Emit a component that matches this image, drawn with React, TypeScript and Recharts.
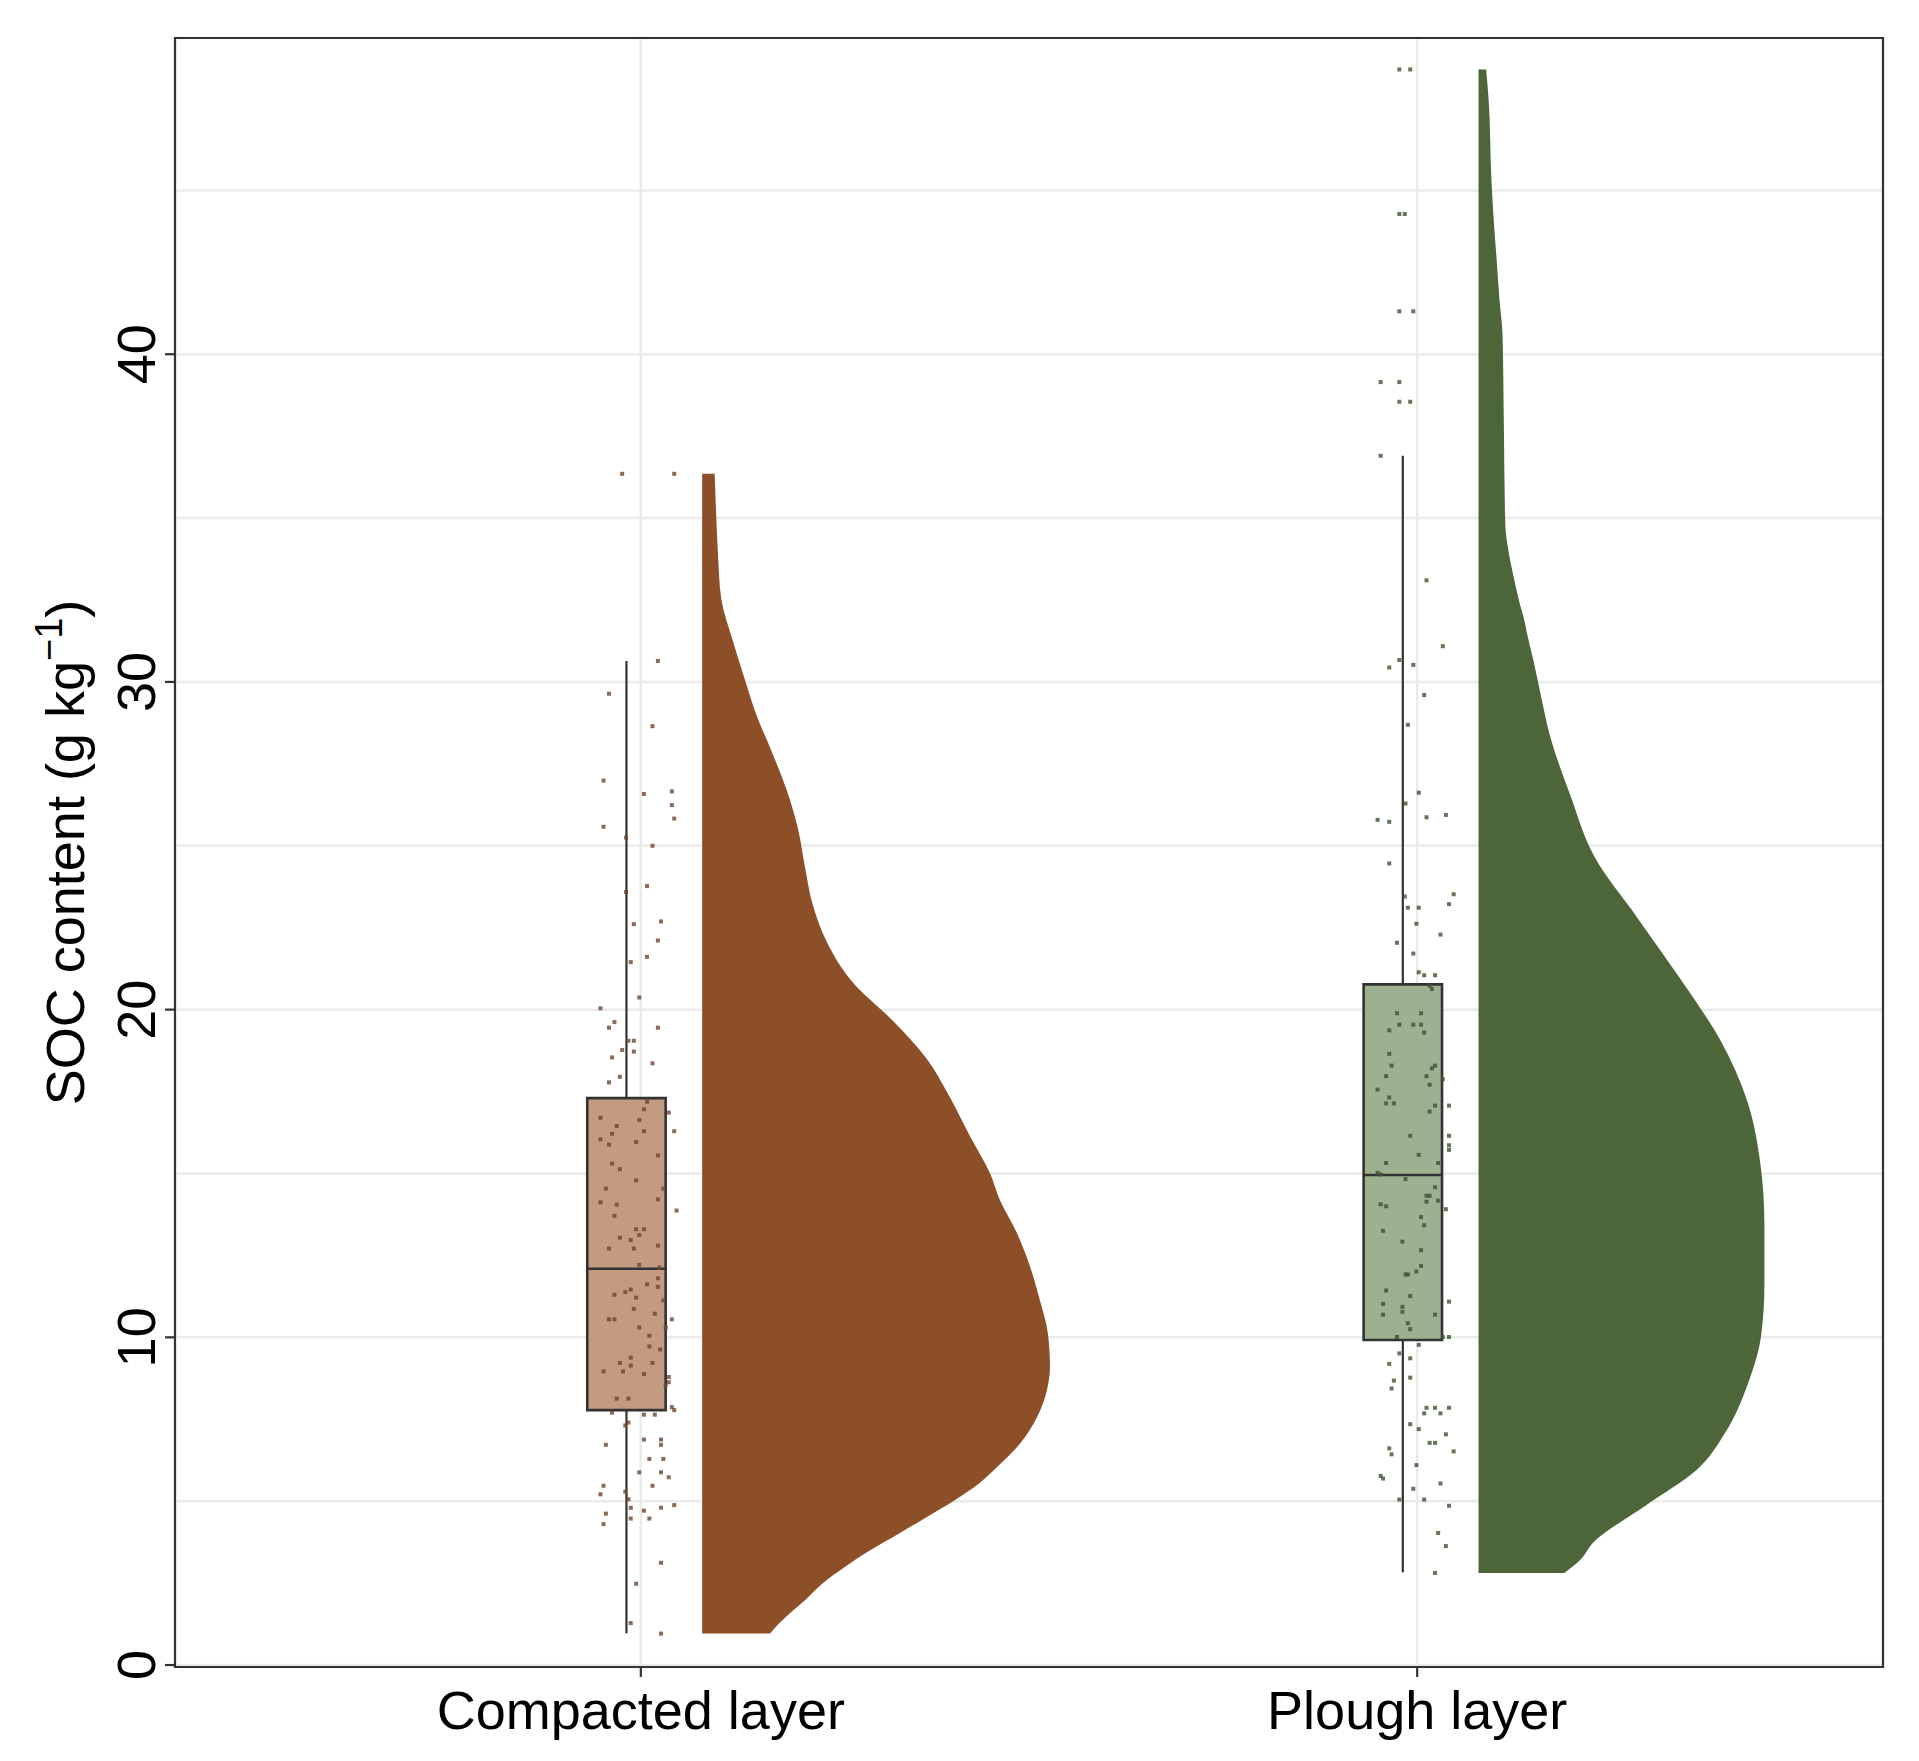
import React from "react";
import { ComposedChart, XAxis, YAxis, CartesianGrid, Area, Scatter, ReferenceArea, ReferenceLine } from "recharts";

const categories = ["Compacted layer", "Plough layer"];
const gridTicks = [0, 5, 10, 15, 20, 25, 30, 35, 40, 45];
const categoryTicks = [1, 2];

// jittered observations (SOC, horizontal jitter in category units)
const compactedSoc = [
  36.35, 36.35, 30.64, 29.64, 28.65, 26.99, 26.58, 26.66, 26.24, 25.83, 25.58, 25.25, 25.0, 23.59, 23.77, 22.61,
  22.69, 22.11, 21.45, 21.61, 20.37, 20.04, 19.45, 19.62, 19.45, 19.05, 19.05,
  18.77, 18.72, 18.54, 18.36, 17.95, 17.78,
  17.19, 16.96, 16.7, 16.63, 16.86, 16.45, 16.29, 16.29, 16.21, 16.04, 15.88, 15.96, 15.55, 15.3, 15.13, 14.79,
  14.54, 14.54, 14.21, 14.12, 14.05, 13.87, 13.71, 13.3, 13.3, 13.12, 13.04, 12.97, 12.71, 12.71, 12.8, 12.21, 12.13,
  11.8, 11.54, 11.62, 11.46, 11.38, 11.3, 11.21, 11.13, 10.87, 10.72, 10.55, 10.55, 10.55, 10.3, 10.3, 10.05, 9.72,
  9.63, 9.38, 9.22, 9.14, 9.22, 8.96, 8.96, 8.88, 8.79, 8.63, 8.54, 8.13, 8.13, 7.87, 7.78,
  7.7, 7.64, 7.64, 7.4, 7.31, 6.72, 6.88, 6.88, 6.72, 6.29, 6.29, 5.88, 5.88, 5.73, 5.47, 5.47, 5.21, 5.29, 5.06,
  4.88, 4.8, 4.8, 4.71, 4.47, 4.47, 4.62, 4.3, 3.12, 2.48, 1.28, 0.96
];
const compactedJitter = [
  -0.024, 0.043, 0.022, -0.041, 0.015, -0.048, 0.004, 0.04, 0.04, 0.043, -0.048, -0.019, 0.015, -0.019, 0.008, -0.009,
  0.026, 0.022, -0.013, 0.008, -0.002, -0.052, 0.022, -0.034, -0.041, -0.016, -0.009,
  -0.024, -0.009, -0.037, 0.015, -0.027, -0.041,
  0.008, 0.004, -0.052, -0.002, 0.036, -0.031, 0.004, 0.043, -0.037, -0.052, -0.041, -0.006, 0.022, -0.037, -0.027,
  -0.006, -0.045, 0.029, 0.022, -0.052, -0.031, 0.046, -0.034, -0.006, 0.004, -0.002, -0.027, -0.013, -0.041, -0.009,
  0.022, -0.002, 0.024,
  0.022, 0.022, 0.008, -0.013, -0.02, -0.034, -0.006, 0.029, -0.009, 0.018, -0.041, -0.034, 0.04, -0.002, 0.032, 0.011,
  0.011, 0.025, -0.013, -0.027, -0.013, 0.015, -0.048, -0.023, 0.004, 0.036, 0.036, 0.032, -0.031, -0.016, 0.04, 0.043,
  -0.037, 0.004, 0.018, -0.016, -0.02, -0.045, 0.004, 0.026, 0.026, 0.011, 0.029, -0.002, 0.026, 0.036, -0.048, 0.015,
  -0.052, -0.02, -0.016, 0.043, 0.026, -0.013, 0.004, -0.013, 0.011, -0.045, -0.048, 0.026, -0.006, -0.013, 0.026
];

const ploughSoc = [
  48.69, 48.69, 44.28, 44.28, 41.31, 41.31, 39.15, 39.15, 38.55, 38.55, 36.9, 33.1, 31.09, 30.44, 30.67, 30.52, 29.6,
  28.69, 26.62, 26.29, 25.79, 25.73, 25.87, 25.94,
  24.46, 23.52, 23.22, 23.45, 23.11, 23.11, 22.62, 22.29, 22.04, 21.71, 21.14, 21.05, 21.05, 20.73, 20.63,
  19.89, 19.89, 19.54, 19.54, 19.54, 19.37, 19.3, 18.65, 18.29, 18.29, 18.21, 17.97, 17.97, 17.88, 17.71, 17.56, 17.32,
  17.14, 17.14, 17.07, 17.07, 16.89, 16.15, 16.15, 15.86, 15.72, 15.57, 15.32, 15.32, 15.02, 14.97,
  14.83, 14.58, 14.32, 14.32, 14.14, 14.17, 14.06, 14.0, 13.91, 13.67, 13.42, 13.25, 12.92, 12.66, 12.18, 12.01, 11.92,
  11.92, 11.43, 11.26, 11.09, 11.02, 10.93, 10.78, 10.69, 10.69, 10.43, 10.25, 10.01, 10.01, 10.01,
  9.77, 9.51, 9.36, 9.19, 8.68, 8.77, 8.44, 7.85, 7.85, 7.85, 7.68, 7.68, 7.35, 7.2, 6.78, 6.78, 7.04, 6.61, 6.43, 6.52,
  6.1, 5.77, 5.69, 5.54, 5.38, 5.05, 5.05, 4.86, 4.03, 3.63, 2.81
];
const ploughJitter = [
  -0.023, -0.009, -0.023, -0.016, -0.023, -0.005, -0.047, -0.023, -0.023, -0.009, -0.047, 0.012, 0.033, -0.036, -0.023,
  -0.005, 0.009, -0.012, 0.002, -0.015, -0.051, -0.036, 0.012, 0.037,
  -0.036, 0.047, 0.041, -0.016, -0.012, 0.002, -0.001, 0.03, -0.026, -0.005, 0.002, 0.009, 0.023, 0.016, 0.019,
  -0.026, 0.005, -0.023, -0.005, 0.005, -0.036, 0.009, -0.036, -0.033, 0.023, 0.019, -0.04, 0.012, 0.033, 0.016, -0.051,
  -0.036, -0.04, -0.03, 0.023, 0.041, 0.016, -0.009, 0.041, 0.041, 0.041, 0.002, -0.04, 0.027, -0.051, -0.047,
  -0.015, 0.023, 0.012, 0.016, 0.012, 0.027, -0.047, -0.04, 0.037, 0.005, 0.009, -0.044, -0.019, 0.005, 0.005, -0.001,
  -0.015, -0.012, -0.04, -0.009, 0.041, -0.044, -0.019, -0.019, -0.044, 0.023, -0.012, -0.009, -0.026, 0.033, 0.041,
  0.002, -0.023, -0.009, -0.036, -0.03, -0.009, -0.033, 0.012, 0.023, 0.041, 0.009, 0.03, -0.009, 0.002, 0.016, 0.023,
  0.037, -0.036, -0.033, 0.047, -0.001, -0.047, -0.044, 0.03, -0.005, -0.023, 0.009, 0.041, 0.027, 0.037, 0.023
];

// half-violin density (relative to the widest slice)
const compactedDensitySoc = [
  0.96, 1.26, 1.56, 1.97, 2.48, 2.99, 3.5, 4.01, 4.51, 5.02, 5.53, 6.04, 6.76, 7.57, 8.38, 9.1, 10.12, 11.13, 12.15,
  13.18, 14.19, 15.0, 16.14, 17.31, 18.48, 19.65, 20.82, 21.99, 23.16, 24.33, 25.5, 26.67, 27.85, 29.02, 30.0, 31.36,
  32.53, 34.0, 35.2, 36.35
];
const compactedDensity = [
  0.195, 0.22, 0.25, 0.295, 0.345, 0.41, 0.483, 0.565, 0.645, 0.725, 0.795, 0.848, 0.914, 0.963, 0.991, 1.0, 0.994,
  0.971, 0.943, 0.905, 0.856, 0.828, 0.77, 0.713, 0.647, 0.549, 0.434, 0.362, 0.319, 0.296, 0.276, 0.244, 0.201, 0.155,
  0.125, 0.085, 0.055, 0.045, 0.04, 0.036
];
const ploughDensitySoc = [
  2.81, 3.18, 3.74, 4.86, 5.98, 7.1, 8.6, 10.09, 11.59, 13.46, 15.33, 17.2, 19.07, 20.94, 22.8, 24.67, 26.54, 28.41,
  29.5, 30.65, 31.5, 31.87, 32.5, 33.2, 33.66, 34.13, 34.8, 37.7, 40.6, 41.69, 42.77, 43.89, 45.35, 47.79, 48.69
];
const ploughDensity = [
  0.247, 0.29, 0.33, 0.48, 0.63, 0.71, 0.775, 0.813, 0.822, 0.822, 0.81, 0.773, 0.695, 0.58, 0.457, 0.333, 0.264,
  0.204, 0.181, 0.158, 0.139, 0.132, 0.116, 0.101, 0.092, 0.084, 0.077, 0.073, 0.069, 0.06, 0.053, 0.045, 0.037, 0.029,
  0.022
];

// box plot statistics per category
const whiskerLow = [0.97, 2.83];
const boxQ1 = [7.78, 9.92];
const boxMedian = [12.09, 14.95];
const boxQ3 = [17.3, 20.77];
const whiskerHigh = [30.64, 36.9];

const violinColors = ["#8C4F27", "#4C663A"];
const boxColors = ["#C39B80", "#9DB08F"];
const pointColors = ["#6B4632", "#3E5231"];

const W = 1919;
const H = 1761;
const PLOT_LEFT = 175;
const PLOT_TOP = 38;
const PLOT_RIGHT = 1883;
const PLOT_BOTTOM = 1667;
const Y_DOMAIN: [number, number] = [-0.06, 49.65];
const X_DOMAIN: [number, number] = [0.4, 2.6];
const BOX_LEFT = -0.069;
const BOX_RIGHT = 0.032;
const BOX_MID = -0.0185;
const VIOLIN_START = 0.079;
const VIOLIN_SCALE = 0.448;
const FONT = "'Liberation Sans', Arial, Helvetica, sans-serif";

const violins = [
  compactedDensitySoc.map((s, k) => ({ y: s, x: 1 + VIOLIN_START + compactedDensity[k] * VIOLIN_SCALE })),
  ploughDensitySoc.map((s, k) => ({ y: s, x: 2 + VIOLIN_START + ploughDensity[k] * VIOLIN_SCALE }))
];
const points = [
  compactedSoc.map((s, k) => ({ y: s, x: 1 + compactedJitter[k] })),
  ploughSoc.map((s, k) => ({ y: s, x: 2 + ploughJitter[k] }))
];

function YTick(props: any) {
  const { y, payload } = props;
  const v = payload.value;
  if (v % 10 !== 0) return <g />;
  const tx = PLOT_LEFT - 20;
  return (
    <g>
      <line x1={PLOT_LEFT - 10} x2={PLOT_LEFT} y1={y} y2={y} stroke="#333333" strokeWidth={2.2} />
      <text x={tx} y={y} transform={`rotate(-90 ${tx} ${y})`} textAnchor="middle" fontSize={54} fill="#000" fontFamily={FONT}>
        {v}
      </text>
    </g>
  );
}

function XTick(props: any) {
  const { x, payload } = props;
  return (
    <g>
      <line x1={x} x2={x} y1={PLOT_BOTTOM} y2={PLOT_BOTTOM + 10} stroke="#333333" strokeWidth={2.2} />
      <text x={x} y={PLOT_BOTTOM + 62} textAnchor="middle" fontSize={54} fill="#000" fontFamily={FONT}>
        {categories[payload.value - 1]}
      </text>
    </g>
  );
}

function YTitle() {
  const tx = 84;
  const ty = (PLOT_TOP + PLOT_BOTTOM) / 2;
  return (
    <text x={tx} y={ty} transform={`rotate(-90 ${tx} ${ty})`} textAnchor="middle" fontSize={54} fill="#000" fontFamily={FONT}>
      SOC content (g kg
      <tspan dy={-22} fontSize={38}>−1</tspan>
      <tspan dy={22} fontSize={54}>)</tspan>
    </text>
  );
}

const squareShape = (color: string) => (p: any) => (
  <rect x={p.cx - 2} y={p.cy - 2} width={4} height={4} fill={color} fillOpacity={0.8} />
);

export default function App() {
  return (
    <div style={{ position: "absolute", left: 0, top: 0, width: W, height: H, background: "#fff", fontFamily: FONT }}>
      <ComposedChart
        width={W}
        height={H}
        layout="vertical"
        margin={{ top: PLOT_TOP, right: W - PLOT_RIGHT, bottom: 0, left: 0 }}
      >
        <CartesianGrid stroke="#EBEBEB" strokeWidth={2.5} />
        <XAxis
          type="number"
          dataKey="x"
          domain={X_DOMAIN}
          ticks={categoryTicks}
          allowDataOverflow
          height={H - PLOT_BOTTOM}
          axisLine={false}
          tickLine={false}
          interval={0}
          tick={<XTick />}
        />
        <YAxis
          type="number"
          dataKey="y"
          domain={Y_DOMAIN}
          ticks={gridTicks}
          allowDataOverflow
          reversed
          width={PLOT_LEFT}
          axisLine={false}
          tickLine={false}
          interval={0}
          tick={<YTick />}
          label={<YTitle />}
        />
        {violins.map((d, i) => (
          <Area
            key={`v${i}`}
            data={d}
            dataKey="x"
            type="monotone"
            baseValue={i + 1 + VIOLIN_START}
            fill={violinColors[i]}
            fillOpacity={1}
            stroke="none"
            dot={false}
            activeDot={false}
            isAnimationActive={false}
          />
        ))}
        {categories.map((c, i) => (
          <ReferenceArea
            key={`b${c}`}
            x1={i + 1 + BOX_LEFT}
            x2={i + 1 + BOX_RIGHT}
            y1={boxQ1[i]}
            y2={boxQ3[i]}
            fill={boxColors[i]}
            fillOpacity={1}
            stroke="#333333"
            strokeWidth={2.6}
          />
        ))}
        {categories.map((c, i) => (
          <ReferenceLine
            key={`wl${c}`}
            segment={[{ x: i + 1 + BOX_MID, y: whiskerLow[i] }, { x: i + 1 + BOX_MID, y: boxQ1[i] }]}
            stroke="#333333"
            strokeWidth={2.2}
          />
        ))}
        {categories.map((c, i) => (
          <ReferenceLine
            key={`wh${c}`}
            segment={[{ x: i + 1 + BOX_MID, y: boxQ3[i] }, { x: i + 1 + BOX_MID, y: whiskerHigh[i] }]}
            stroke="#333333"
            strokeWidth={2.2}
          />
        ))}
        {categories.map((c, i) => (
          <ReferenceLine
            key={`m${c}`}
            segment={[{ x: i + 1 + BOX_LEFT, y: boxMedian[i] }, { x: i + 1 + BOX_RIGHT, y: boxMedian[i] }]}
            stroke="#333333"
            strokeWidth={2.5}
          />
        ))}
        {points.map((d, i) => (
          <Scatter key={`p${i}`} data={d} shape={squareShape(pointColors[i])} isAnimationActive={false} />
        ))}
        <ReferenceArea
          x1={X_DOMAIN[0]}
          x2={X_DOMAIN[1]}
          y1={Y_DOMAIN[0]}
          y2={Y_DOMAIN[1]}
          fill="none"
          stroke="#333333"
          strokeWidth={2.2}
        />
      </ComposedChart>
    </div>
  );
}
